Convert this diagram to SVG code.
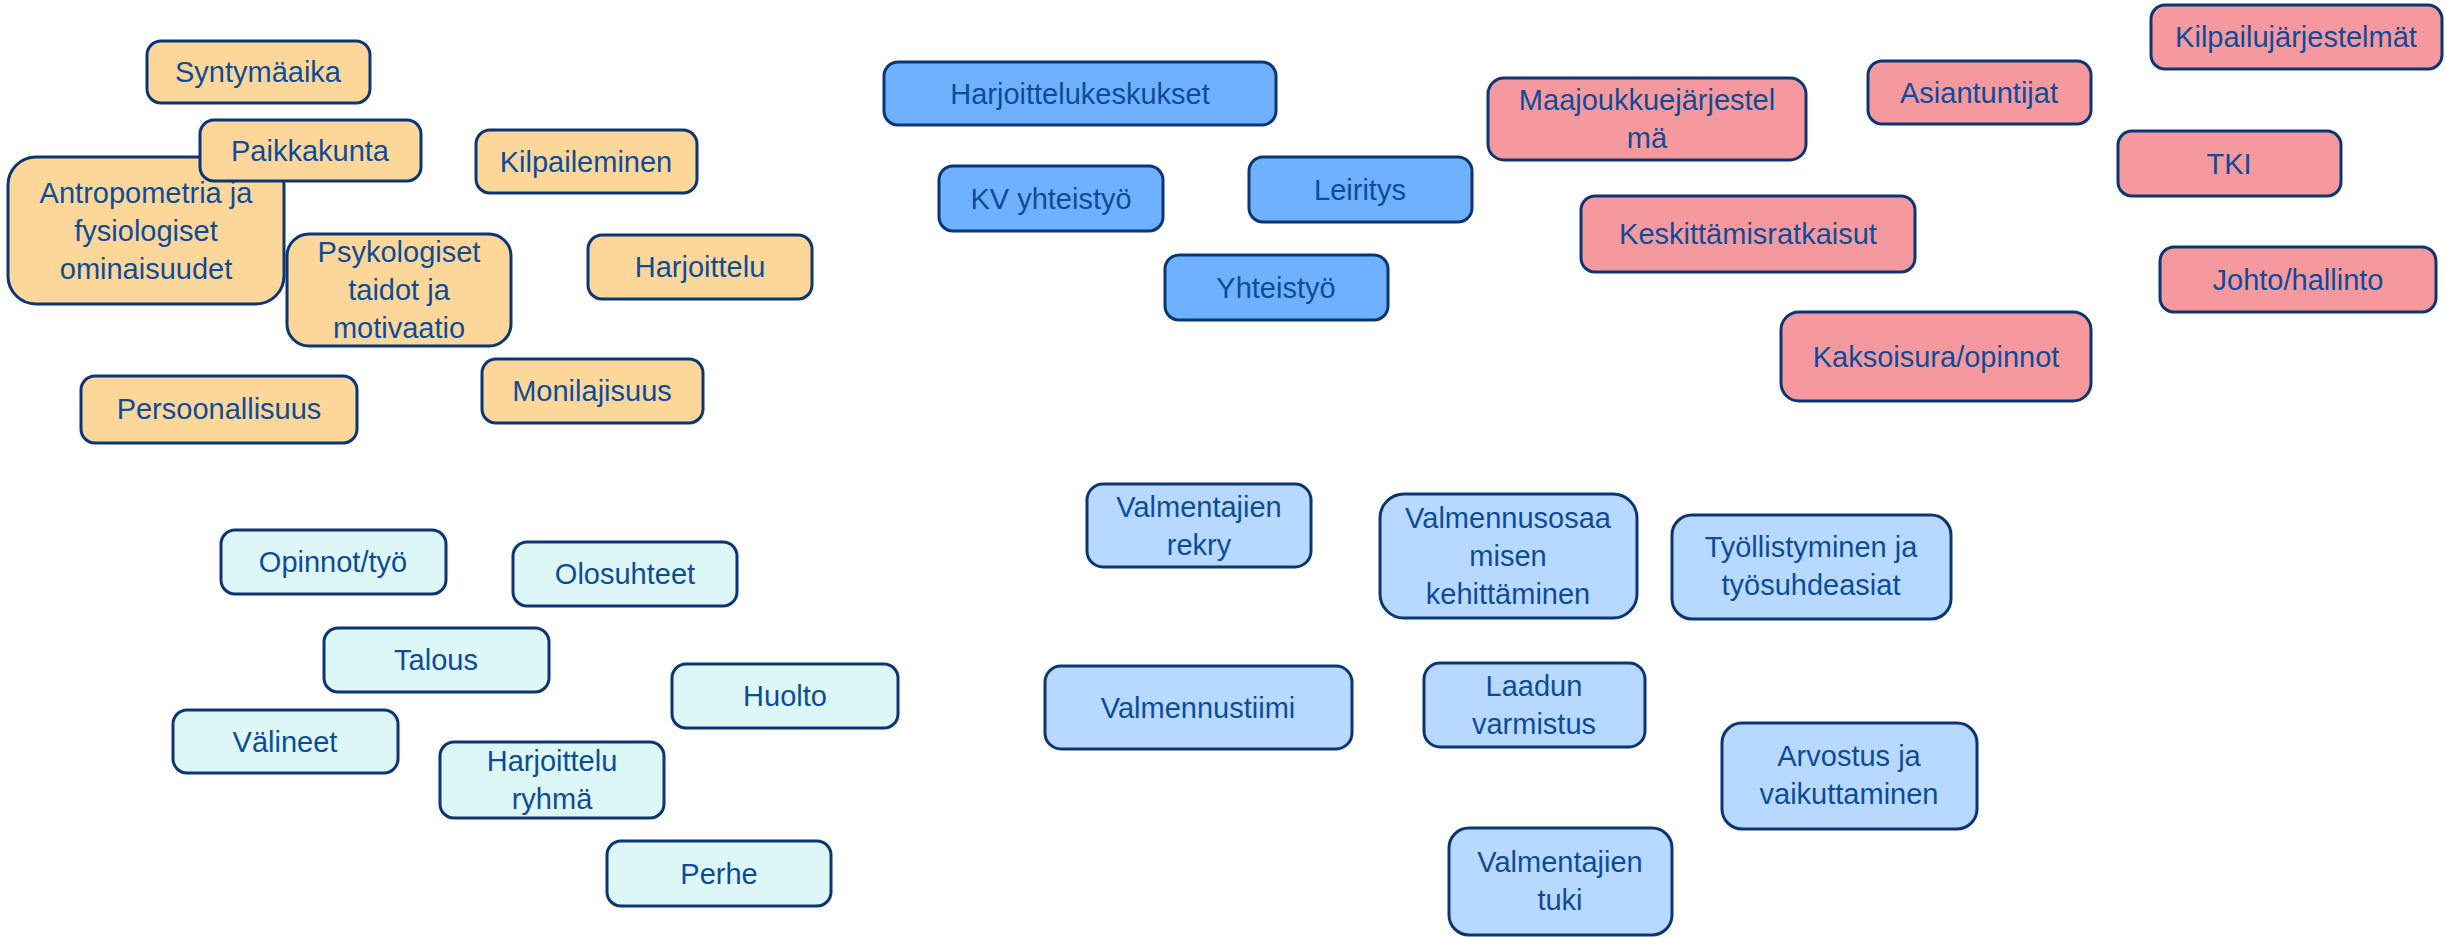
<svg xmlns="http://www.w3.org/2000/svg" width="2445" height="937" viewBox="0 0 2445 937">
<style>
rect{stroke:#0B3673;stroke-width:3;}
.o{fill:#FDD79A}.b{fill:#6FB1FF}.p{fill:#F5999F}.c{fill:#DDF7F7}.l{fill:#B8D9FF}
text{font-family:"Liberation Sans",Arial,sans-serif;font-size:29px;fill:#0E4C98;text-anchor:middle}
</style>
<rect width="2445" height="937" fill="#FFFFFF" style="stroke:none"/>
<g id="connectors"></g>
<g id="n-antropometria"><rect class="o" x="8" y="157" width="276" height="147" rx="28"/><text x="146" y="203">Antropometria ja</text><text x="146" y="241">fysiologiset</text><text x="146" y="279">ominaisuudet</text></g>
<g id="n-syntymaaika"><rect class="o" x="147" y="41" width="223" height="62" rx="14"/><text x="258" y="82">Syntymäaika</text></g>
<g id="n-paikkakunta"><rect class="o" x="200" y="120" width="221" height="61" rx="14"/><text x="310" y="161">Paikkakunta</text></g>
<g id="n-kilpaileminen"><rect class="o" x="476" y="130" width="221" height="63" rx="14"/><text x="586" y="172">Kilpaileminen</text></g>
<g id="n-psykologiset"><rect class="o" x="287" y="234" width="224" height="112" rx="22"/><text x="399" y="262">Psykologiset</text><text x="399" y="300">taidot ja</text><text x="399" y="338">motivaatio</text></g>
<g id="n-harjoittelu"><rect class="o" x="588" y="235" width="224" height="64" rx="14"/><text x="700" y="277">Harjoittelu</text></g>
<g id="n-persoonallisuus"><rect class="o" x="81" y="376" width="276" height="67" rx="14"/><text x="219" y="419">Persoonallisuus</text></g>
<g id="n-monilajisuus"><rect class="o" x="482" y="359" width="221" height="64" rx="14"/><text x="592" y="401">Monilajisuus</text></g>

<g id="n-harjoittelukeskukset"><rect class="b" x="884" y="62" width="392" height="63" rx="14"/><text x="1080" y="104">Harjoittelukeskukset</text></g>
<g id="n-kv"><rect class="b" x="939" y="166" width="224" height="65" rx="14"/><text x="1051" y="209">KV yhteistyö</text></g>
<g id="n-leiritys"><rect class="b" x="1249" y="157" width="223" height="65" rx="14"/><text x="1360" y="200">Leiritys</text></g>
<g id="n-yhteistyo"><rect class="b" x="1165" y="255" width="223" height="65" rx="14"/><text x="1276" y="298">Yhteistyö</text></g>

<g id="n-kilpailujarjestelmat"><rect class="p" x="2151" y="5" width="291" height="64" rx="14"/><text x="2296" y="47">Kilpailujärjestelmät</text></g>
<g id="n-asiantuntijat"><rect class="p" x="1868" y="61" width="223" height="63" rx="14"/><text x="1979" y="103">Asiantuntijat</text></g>
<g id="n-maajoukkue"><rect class="p" x="1488" y="78" width="318" height="82" rx="16"/><text x="1647" y="110">Maajoukkuejärjestel</text><text x="1647" y="148">mä</text></g>
<g id="n-tki"><rect class="p" x="2118" y="131" width="223" height="65" rx="14"/><text x="2229" y="174">TKI</text></g>
<g id="n-keskittamis"><rect class="p" x="1581" y="196" width="334" height="76" rx="14"/><text x="1748" y="244">Keskittämisratkaisut</text></g>
<g id="n-johto"><rect class="p" x="2160" y="247" width="276" height="65" rx="14"/><text x="2298" y="290">Johto/hallinto</text></g>
<g id="n-kaksoisura"><rect class="p" x="1781" y="312" width="310" height="89" rx="18"/><text x="1936" y="367">Kaksoisura/opinnot</text></g>

<g id="n-opinnot"><rect class="c" x="221" y="530" width="225" height="64" rx="14"/><text x="333" y="572">Opinnot/työ</text></g>
<g id="n-olosuhteet"><rect class="c" x="513" y="542" width="224" height="64" rx="14"/><text x="625" y="584">Olosuhteet</text></g>
<g id="n-talous"><rect class="c" x="324" y="628" width="225" height="64" rx="14"/><text x="436" y="670">Talous</text></g>
<g id="n-huolto"><rect class="c" x="672" y="664" width="226" height="64" rx="14"/><text x="785" y="706">Huolto</text></g>
<g id="n-valineet"><rect class="c" x="173" y="710" width="225" height="63" rx="14"/><text x="285" y="752">Välineet</text></g>
<g id="n-harjoitteluryhma"><rect class="c" x="440" y="742" width="224" height="76" rx="14"/><text x="552" y="771">Harjoittelu</text><text x="552" y="809">ryhmä</text></g>
<g id="n-perhe"><rect class="c" x="607" y="841" width="224" height="65" rx="14"/><text x="719" y="884">Perhe</text></g>

<g id="n-rekry"><rect class="l" x="1087" y="484" width="224" height="83" rx="16"/><text x="1199" y="517">Valmentajien</text><text x="1199" y="555">rekry</text></g>
<g id="n-valmennusosaaminen"><rect class="l" x="1380" y="494" width="257" height="124" rx="24"/><text x="1508" y="528">Valmennusosaa</text><text x="1508" y="566">misen</text><text x="1508" y="604">kehittäminen</text></g>
<g id="n-tyollistyminen"><rect class="l" x="1672" y="515" width="279" height="104" rx="20"/><text x="1811" y="557">Työllistyminen ja</text><text x="1811" y="595">työsuhdeasiat</text></g>
<g id="n-valmennustiimi"><rect class="l" x="1045" y="666" width="307" height="83" rx="16"/><text x="1198" y="718">Valmennustiimi</text></g>
<g id="n-laadun"><rect class="l" x="1424" y="663" width="221" height="84" rx="16"/><text x="1534" y="696">Laadun</text><text x="1534" y="734">varmistus</text></g>
<g id="n-arvostus"><rect class="l" x="1722" y="723" width="255" height="106" rx="20"/><text x="1849" y="766">Arvostus ja</text><text x="1849" y="804">vaikuttaminen</text></g>
<g id="n-tuki"><rect class="l" x="1449" y="828" width="223" height="107" rx="20"/><text x="1560" y="872">Valmentajien</text><text x="1560" y="910">tuki</text></g>
</svg>
